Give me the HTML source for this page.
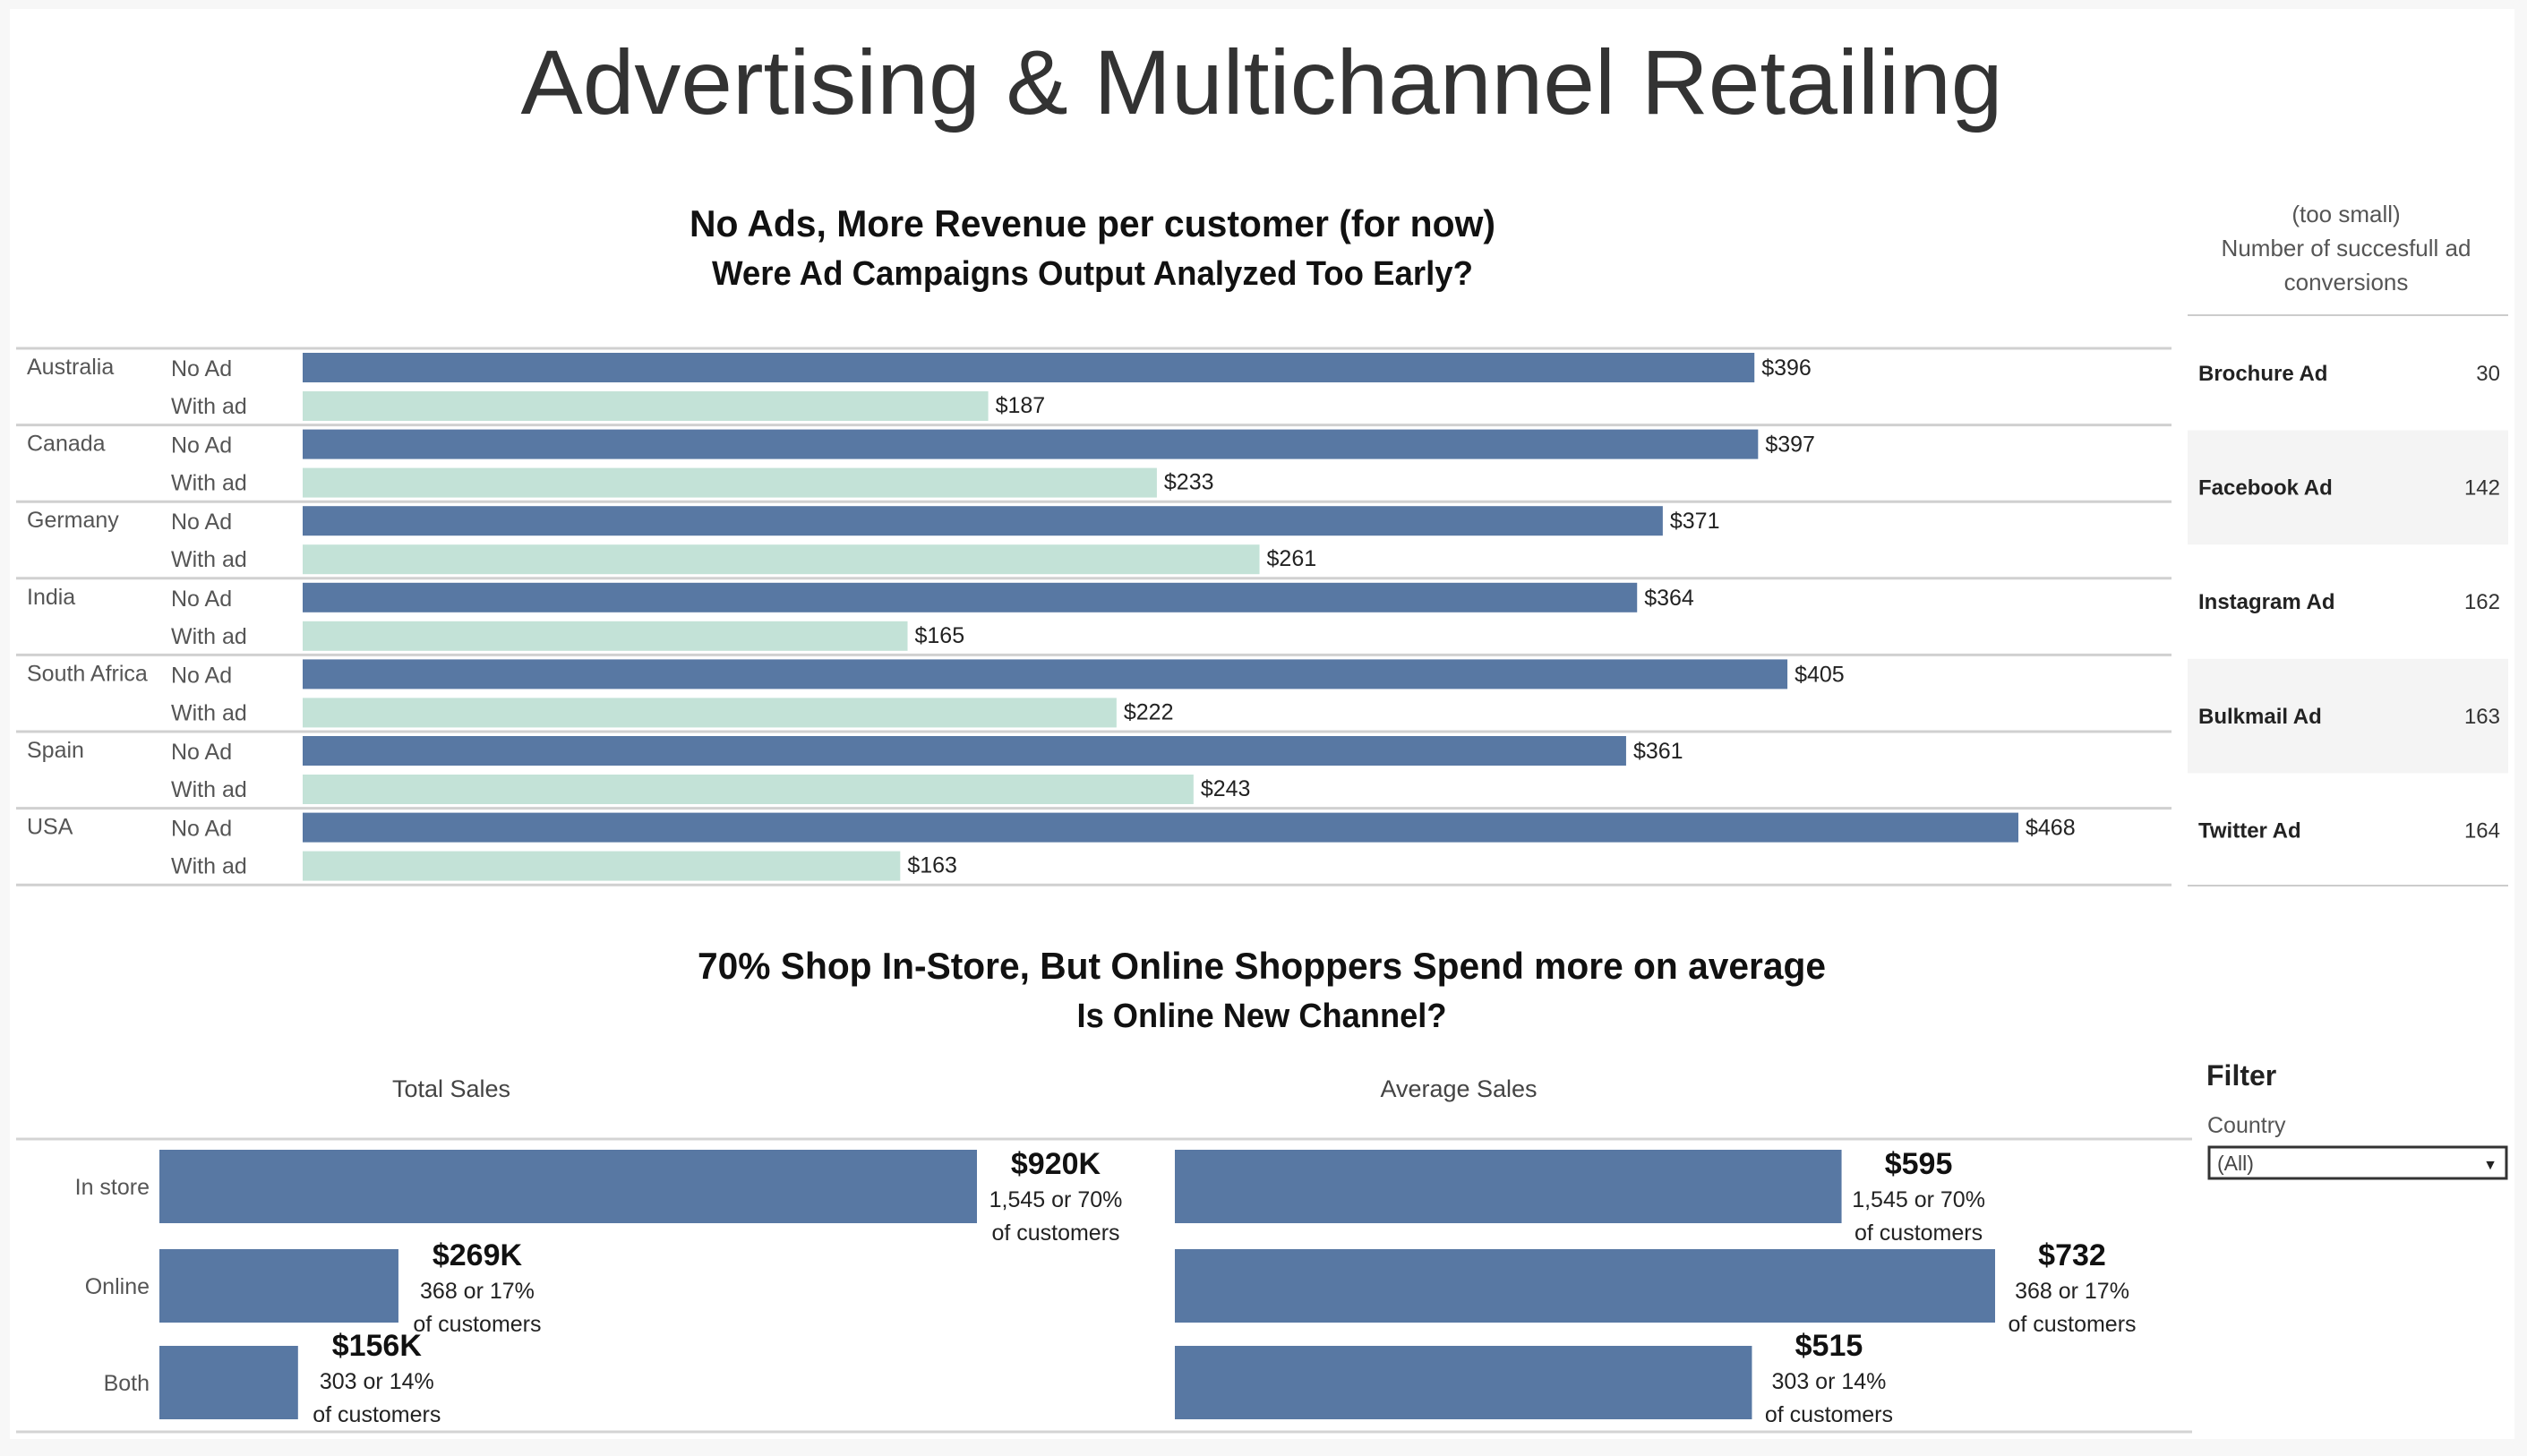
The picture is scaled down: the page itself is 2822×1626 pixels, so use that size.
<!DOCTYPE html>
<html><head><meta charset="utf-8">
<style>
html,body{margin:0;padding:0;background:#f7f7f7;}
svg{display:block;font-family:"Liberation Sans",sans-serif;}
</style></head>
<body>
<svg id="dash" width="2822" height="1626" viewBox="0 0 2822 1626" xmlns="http://www.w3.org/2000/svg">
<rect x="11" y="10" width="2797" height="1597" fill="#ffffff"/>
<text x="1409" y="127" text-anchor="middle" font-size="102" fill="#333" textLength="1655" lengthAdjust="spacingAndGlyphs">Advertising &amp; Multichannel Retailing</text>
<text x="1220" y="264" text-anchor="middle" font-size="42" font-weight="bold" fill="#111" textLength="900" lengthAdjust="spacingAndGlyphs">No Ads, More Revenue per customer (for now)</text>
<text x="1220" y="318" text-anchor="middle" font-size="38" font-weight="bold" fill="#111" textLength="850" lengthAdjust="spacingAndGlyphs">Were Ad Campaigns Output Analyzed Too Early?</text>
<g id="adChart"></g>
<g id="convTable">
<text x="2620" y="248" text-anchor="middle" font-size="26" fill="#555">(too small)</text>
<text x="2620" y="286" text-anchor="middle" font-size="26" fill="#555">Number of succesfull ad</text>
<text x="2620" y="324" text-anchor="middle" font-size="26" fill="#555">conversions</text>
<line x1="2443" y1="352" x2="2801" y2="352" stroke="#ccc" stroke-width="2"/>
</g>
<text x="1409" y="1093" text-anchor="middle" font-size="42" font-weight="bold" fill="#111" textLength="1260" lengthAdjust="spacingAndGlyphs">70% Shop In-Store, But Online Shoppers Spend more on average</text>
<text x="1409" y="1147" text-anchor="middle" font-size="38" font-weight="bold" fill="#111" textLength="413" lengthAdjust="spacingAndGlyphs">Is Online New Channel?</text>
<text x="504" y="1225" text-anchor="middle" font-size="27" fill="#444">Total Sales</text>
<text x="1629" y="1225" text-anchor="middle" font-size="27" fill="#444">Average Sales</text>
<line x1="18" y1="1272" x2="2448" y2="1272" stroke="#d4d4d4" stroke-width="3"/>
<line x1="18" y1="1599" x2="2448" y2="1599" stroke="#d4d4d4" stroke-width="3"/>
<g id="channelChart"></g>
<g>
<text x="2464" y="1212" font-size="32" font-weight="bold" fill="#222">Filter</text>
<text x="2465" y="1265" font-size="25" fill="#555">Country</text>
<g>
<rect x="2467" y="1281" width="332" height="35" fill="#fff" stroke="#333" stroke-width="3"/>
<text x="2476" y="1307" font-size="23" fill="#444">(All)</text>
<text x="2789" y="1306" font-size="16" fill="#222" text-anchor="end">▼</text>
</g>
</g>
</svg>
<script>
const NS="http://www.w3.org/2000/svg";
const countries=["Australia","Canada","Germany","India","South Africa","Spain","USA"];
const noAdValues=[396,397,371,364,405,361,468];
const withAdValues=[187,233,261,165,222,243,163];
const adTypes=["Brochure Ad","Facebook Ad","Instagram Ad","Bulkmail Ad","Twitter Ad"];
const adConversions=[30,142,162,163,164];
const channels=["In store","Online","Both"];
const totalSalesK=[920,269,156];
const avgSales=[595,732,515];
const customerCounts=["1,545","368","303"];
const customerShares=["70%","17%","14%"];

function mk(tag,attrs,parent,txt){const e=document.createElementNS(NS,tag);for(const k in attrs)e.setAttribute(k,attrs[k]);if(txt!==undefined)e.textContent=txt;parent.appendChild(e);return e;}

const ad=document.getElementById('adChart');
const x0=338, pxPerDollar=(2254-338)/468, rowTop=389, rowH=85.6;
const xAd=v=>x0+v*pxPerDollar;
countries.forEach((c,i)=>{
  const y=rowTop+i*rowH;
  const rule=mk('line',{x1:18,y1:y,x2:2425,y2:y,stroke:'#d0d0d0','stroke-width':3},ad);
  
  
  const cl=mk('text',{x:30,y:y+29,'font-size':25,fill:'#555'},ad,c);
  
  
  const l1=mk('text',{x:191,y:y+31,'font-size':25,fill:'#555'},ad,'No Ad');
  
  
  const l2=mk('text',{x:191,y:y+73,'font-size':25,fill:'#555'},ad,'With ad');
  
  
  const b1=mk('rect',{x:x0,y:y+5,width:xAd(noAdValues[i])-x0,height:33,fill:'#5878a3'},ad);
  
  
  const v1=mk('text',{x:xAd(noAdValues[i])+8,y:y+30,'font-size':25,fill:'#222'},ad,'$'+noAdValues[i]);
  
  
  const b2=mk('rect',{x:x0,y:y+48,width:xAd(withAdValues[i])-x0,height:33,fill:'#c3e2d7'},ad);
  
  
  const v2=mk('text',{x:xAd(withAdValues[i])+8,y:y+72,'font-size':25,fill:'#222'},ad,'$'+withAdValues[i]);
  
  
});
const lastRule=mk('line',{x1:18,y1:rowTop+7*rowH,x2:2425,y2:rowTop+7*rowH,stroke:'#d0d0d0','stroke-width':3},ad);



const tb=document.getElementById('convTable');
const tTop=353, tRowH=127.6;
adTypes.forEach((a,i)=>{
  const y=tTop+i*tRowH;
  if(i%2===1){const bg=mk('rect',{x:2443,y:y,width:358,height:tRowH,fill:'#f4f4f4'},tb);
    
    }
  const n=mk('text',{x:2455,y:y+72,'font-size':24,fill:'#222','font-weight':'bold'},tb,a);
  
  
  const v=mk('text',{x:2792,y:y+72,'font-size':24,fill:'#333','text-anchor':'end'},tb,String(adConversions[i]));
  
  
});
const tEnd=mk('line',{x1:2443,y1:989,x2:2801,y2:989,stroke:'#ccc','stroke-width':2},tb);



const ch=document.getElementById('channelChart');
const barTops=[1284,1395,1503], barH=82;
const labelShift=[0,-9,-16];
const xTotal=v=>178+v*(913/920);
const xAvg=v=>1312+v*(916/732);
function labelBlock(cx,top,big){
  const t1=mk('text',{x:cx,y:top+31,'font-size':34,'font-weight':'bold',fill:'#111','text-anchor':'middle'},ch,big.a);
  
  
  const t2=mk('text',{x:cx,y:top+68,'font-size':25,fill:'#222','text-anchor':'middle'},ch,big.b);
  
  
  const t3=mk('text',{x:cx,y:top+105,'font-size':25,fill:'#222','text-anchor':'middle'},ch,'of customers');
  
  
}
channels.forEach((c,i)=>{
  const y=barTops[i];
  const cl=mk('text',{x:167,y:y+50,'font-size':25,fill:'#555','text-anchor':'end'},ch,c);
  
  
  const b1=mk('rect',{x:178,y:y,width:xTotal(totalSalesK[i])-178,height:barH,fill:'#5878a3'},ch);
  
  
  const b2=mk('rect',{x:1312,y:y,width:xAvg(avgSales[i])-1312,height:barH,fill:'#5878a3'},ch);
  
  
  const sub=customerCounts[i]+' or '+customerShares[i];
  labelBlock(xTotal(totalSalesK[i])+88,y-4+labelShift[i],{a:'$'+totalSalesK[i]+'K',b:sub});
  labelBlock(xAvg(avgSales[i])+86,y-4+labelShift[i],{a:'$'+avgSales[i],b:sub});
});
</script>
</body></html>
